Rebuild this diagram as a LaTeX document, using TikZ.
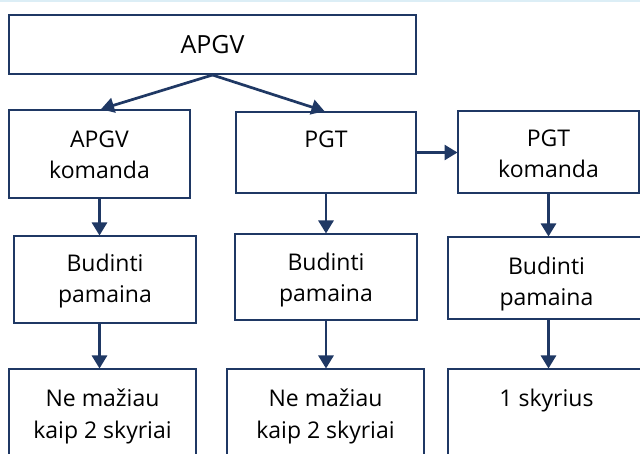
\documentclass[tikz,border=0pt]{standalone}
\usepackage{fontspec}
\setmainfont{Open Sans}
\usetikzlibrary{arrows.meta,calc}
\definecolor{navy}{RGB}{31,56,100}
\definecolor{topline}{RGB}{220,238,246}
\newcommand{\bxtext}[5]{\parbox[c][#2pt][t]{#1pt}{\centering\fontsize{#4}{31}\selectfont\rule{0pt}{#3pt}#5}}
\tikzset{
  box/.style={draw=navy, line width=2pt, rectangle, inner sep=0pt, fill=white, text=black},
  arr/.style={draw=navy, line width=2.7pt, -{Triangle[length=13pt,width=15pt]}, shorten >=-0.5pt}
}
\begin{document}
\begin{tikzpicture}[x=1pt,y=-1pt]
\useasboundingbox (0,0) rectangle (640,454);
\fill[white] (0,0) rectangle (640,454);
\fill[topline] (0,0) rectangle (640,2);
% boxes: center at ((x1+x2)/2, (y1+y2)/2)
\node[box] (t)  at (212.5,44.5) {\bxtext{407}{59}{39}{25}{APGV}};
\node[box] (a1) at (99.5,154)   {\bxtext{181}{88}{38}{23}{APGV\\komanda}};
\node[box] (b1) at (326,152.5)  {\bxtext{180}{81}{36}{23}{PGT}};
\node[box] (c1) at (548.5,152)  {\bxtext{181}{82}{36}{23}{PGT\\komanda}};
\node[box] (a2) at (105,279.5)  {\bxtext{182}{87}{36}{23}{Budinti\\pamaina}};
\node[box] (b2) at (326,277)    {\bxtext{182}{86}{37}{23}{Budinti\\pamaina}};
\node[box] (c2) at (546.5,278)  {\bxtext{197}{82}{38}{23}{Budinti\\pamaina}};
\node[box] (a3) at (102.5,414.5){\bxtext{187}{91}{38}{23}{Ne mažiau\\kaip 2 skyriai}};
\node[box] (b3) at (325.5,414.5){\bxtext{197}{91}{38}{23}{Ne mažiau\\kaip 2 skyriai}};
\node[box] (c3) at (546.5,414.5){\bxtext{197}{91}{37}{23}{1 skyrius}};
% connectors
\draw[arr] (t.south) -- ($(a1.north)+(2,0)$);
\draw[arr] (t.south) -- ($(b1.north)+(-2,0)$);
\draw[arr] (b1.east) -- (b1.east -| c1.west);
\draw[arr] (a1.south) -- (a1.south |- a2.north);
\draw[arr] (a2.south -| a1.south) -- (a1.south |- a3.north);
\draw[arr] (b1.south) -- (b1.south |- b2.north);
\draw[arr] (b2.south -| b1.south) -- (b1.south |- b3.north);
\draw[arr] (c1.south) -- (c1.south |- c2.north);
\draw[arr] (c2.south -| c1.south) -- (c1.south |- c3.north);
\end{tikzpicture}
\end{document}
